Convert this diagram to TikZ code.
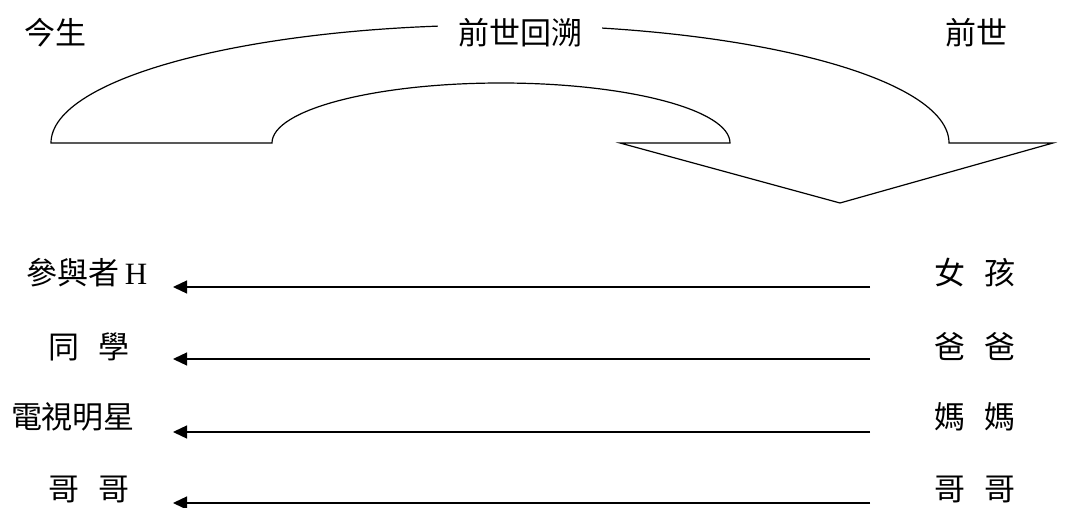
\documentclass[tikz,border=0pt]{standalone}
\usepackage{fontspec}
\setmainfont{Liberation Serif}
\newfontfamily\cjk{Noto Sans CJK TC}
\usetikzlibrary{arrows.meta}
\begin{document}
\begin{tikzpicture}[x=1pt,y=1pt,
  lbl/.style={inner sep=0pt,font=\fontsize{31}{33}\selectfont\cjk},
  link/.style={line width=1.3pt,-{Triangle[length=14pt,width=13pt]}},
  bigarrow/.style={line width=1.2pt,line join=miter}]
\useasboundingbox (0,0) rectangle (1072,507);
% curved arrow
\draw[bigarrow] (51,364) arc[start angle=180,end angle=0,x radius=449,y radius=118]
  -- (1053,364) -- (840,304) -- (620,364) -- (730,364)
  arc[start angle=0,end angle=180,x radius=229,y radius=60] -- cycle;
\node[lbl] (now) at (55,474) {今生};
\node[lbl,fill=white,inner xsep=20pt,inner ysep=4pt] (back) at (520,474) {前世回溯};
\node[lbl] (past) at (976,474) {前世};
% left labels
\node[lbl] (l1) at (87,234) {參與者\,{\rmfamily H}};
\node[lbl] (l2) at (89,160) {同\hspace{0.6em}學};
\node[lbl] (l3) at (73,90) {電視明星};
\node[lbl] (l4) at (89,18) {哥\hspace{0.6em}哥};
% right labels
\node[lbl] (r1) at (975,234) {女\hspace{0.6em}孩};
\node[lbl] (r2) at (975,160) {爸\hspace{0.6em}爸};
\node[lbl] (r3) at (975,90) {媽\hspace{0.6em}媽};
\node[lbl] (r4) at (975,18) {哥\hspace{0.6em}哥};
% connector ends
\coordinate (s1) at (870,220); \coordinate (e1) at (173,220);
\coordinate (s2) at (870,148); \coordinate (e2) at (173,148);
\coordinate (s3) at (870,75);  \coordinate (e3) at (173,75);
\coordinate (s4) at (870,4);   \coordinate (e4) at (173,4);
\draw[link] (s1) -- (e1);
\draw[link] (s2) -- (e2);
\draw[link] (s3) -- (e3);
\draw[link] (s4) -- (e4);
\end{tikzpicture}
\end{document}
